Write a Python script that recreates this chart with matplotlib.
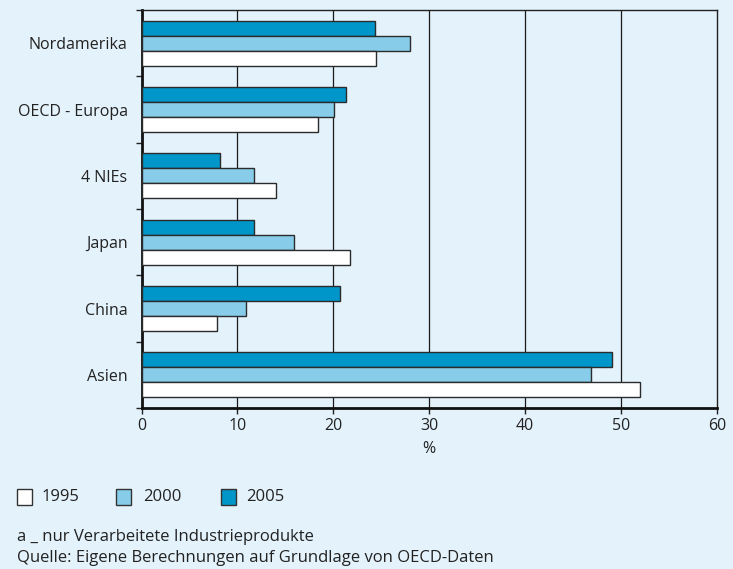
import matplotlib
matplotlib.use("Agg")
import matplotlib.pyplot as plt
from matplotlib.patches import Rectangle
import numpy as np

plt.rcParams['font.family'] = ['Open Sans', 'DejaVu Sans']

regions = ["Nordamerika", "OECD - Europa", "4 NIEs", "Japan", "China", "Asien"]
years = ["1995", "2000", "2005"]
share_1995 = [24.5, 18.4, 14.0, 21.7, 7.9, 52.0]
share_2000 = [27.95, 20.1, 11.7, 15.9, 10.9, 46.9]
share_2005 = [24.3, 21.3, 8.2, 11.7, 20.7, 49.1]
x_ticks = [0, 10, 20, 30, 40, 50, 60]

bg = "#e4f2fb"
colors = {"1995": "#ffffff", "2000": "#87cce9", "2005": "#0096c9"}
edge = "#2b2b2b"
txt = "#222222"

fig = plt.figure(figsize=(7.33, 5.69), dpi=100, facecolor=bg)
W, H = 733, 569
ax = fig.add_axes([141.5 / W, 1 - 408 / H, (717 - 141.5) / W, (408 - 10) / H])
ax.set_facecolor(bg)

n = len(regions)
pos = np.arange(n)
bh = 0.226
series = [("2005", share_2005, -bh), ("2000", share_2000, 0.0), ("1995", share_1995, bh)]
for yr, vals, off in series:
    ax.barh(pos + off, vals, height=bh, color=colors[yr], edgecolor=edge,
            linewidth=1.0, zorder=3)

ax.set_ylim(n - 0.5, -0.5)
ax.set_xlim(0, 60)
ax.set_xticks(x_ticks)
ax.set_xticklabels([str(t) for t in x_ticks], fontsize=11.5, color=txt)
ax.set_yticks(pos)
ax.set_yticklabels(regions, fontsize=11.5, color=txt)
ax.tick_params(axis="y", length=0, pad=10)
ax.set_yticks(np.arange(-0.5, n, 1.0), minor=True)
ax.tick_params(axis="y", which="minor", length=4, width=1, color=txt, direction="out")
ax.tick_params(axis="x", length=4, width=1, color=txt, direction="out", pad=3)

for v in x_ticks[1:-1]:
    ax.axvline(v, color="#1a1a1a", linewidth=0.9, zorder=1)

for side in ["top", "right"]:
    ax.spines[side].set_linewidth(1.0)
    ax.spines[side].set_color(txt)
for side in ["left", "bottom"]:
    ax.spines[side].set_linewidth(2.0)
    ax.spines[side].set_color("#111111")

ax.set_xlabel("%", fontsize=11.5, color=txt, labelpad=5)

# legend drawn in figure pixel coordinates
leg_items = [("1995", 17, 42), ("2000", 116, 143), ("2005", 221, 246)]
for yr, sx, tx in leg_items:
    fig.patches.append(Rectangle((sx / W, 1 - 505 / H), 15 / W, 16 / H,
                                 transform=fig.transFigure, facecolor=colors[yr],
                                 edgecolor="#333333", linewidth=1.0))
    fig.text(tx / W, 1 - 497 / H, yr, fontsize=12, color=txt, va="center", ha="left")

fig.text(17 / W, 1 - 537 / H, "a _ nur Verarbeitete Industrieprodukte", fontsize=12,
         color=txt, va="center", ha="left")
fig.text(17 / W, 1 - 558 / H, "Quelle: Eigene Berechnungen auf Grundlage von OECD-Daten",
         fontsize=12, color=txt, va="center", ha="left")

fig.savefig("out.png", dpi=100, facecolor=bg)
